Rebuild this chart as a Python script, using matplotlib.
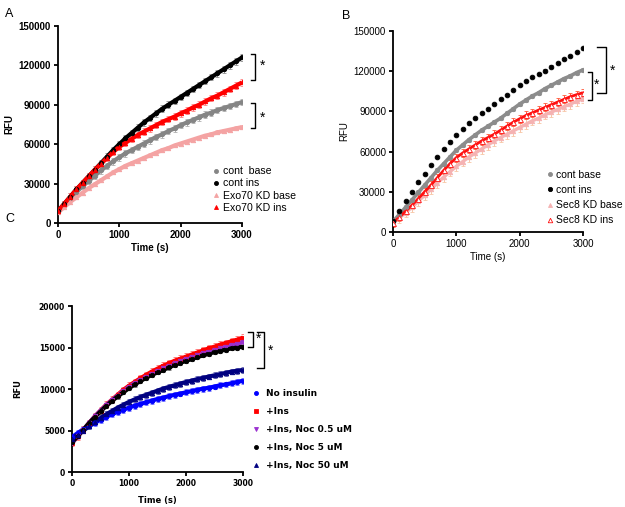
import matplotlib.pyplot as plt
import numpy as np

plt.rcParams["font.family"] = ["Liberation Sans", "DejaVu Sans"]

time_s = list(range(0, 3001, 100))

# Panel A (RFU in thousands)
a_cont_base = [9, 14, 19, 23.5, 28, 32, 36, 40, 43.5, 47, 50, 53, 55.5, 58, 60.5, 63,
               65.5, 67.5, 70, 72, 74.5, 76.5, 78.5, 80.5, 82.5, 84, 86, 87.5, 89, 90.5, 92]
a_cont_ins = [9, 14.5, 20, 25.5, 30.5, 35.5, 40.5, 45.5, 50.5, 55.5, 60, 64.5, 68.5, 72.5,
              76.5, 80, 83.5, 87, 90, 93, 96, 99, 102, 105, 108, 111, 114, 117, 120, 123, 126]
a_kd_base = [8, 12, 16, 19.5, 23, 26.5, 29.5, 32.5, 35.5, 38.5, 41, 43.5, 45.5, 47.5, 49.5,
             51.5, 53.5, 55.5, 57, 59, 60.5, 62, 63.5, 65, 66.5, 67.5, 69, 70, 71, 72, 73]
a_kd_ins = [9, 14.5, 20, 25.5, 30.5, 35.5, 40.5, 45, 49.5, 54, 58, 61, 64, 67, 69.5, 72,
            74.5, 77, 79, 81, 83.5, 85.5, 88, 90, 92.5, 95, 97, 99.5, 102, 104.5, 107]
a_err = [2.5, 2.5, 1.5, 2.5]
a_labels = ["cont  base", "cont ins", "Exo70 KD base", "Exo70 KD ins"]

# Panel B (RFU in thousands)
b_cont_base = [8, 13, 18.5, 24, 29.5, 35, 40.5, 46, 51, 56, 61, 65, 69, 72.5, 76, 79, 82,
               85, 88.5, 92, 95.5, 98.5, 101.5, 104, 107, 109.5, 112, 114.5, 116.5, 119, 121]
b_cont_ins = [8, 15.5, 23, 30, 37, 43.5, 50, 56, 62, 67.5, 72.5, 77, 81, 85, 88.5, 92, 95.5,
              99, 102.5, 106, 109.5, 112.5, 115.5, 118, 120.5, 123.5, 126, 129, 131.5, 134.5, 137]
b_kd_base = [7, 10.5, 14.5, 18.5, 23, 27.5, 32, 36.5, 41, 45, 49, 52.5, 56, 59, 62, 65, 68,
             70.5, 73, 75.5, 78, 80.5, 83, 85, 87.5, 89.5, 91.5, 93.5, 95.5, 97.5, 99.5]
b_kd_ins = [7, 11, 15.5, 20, 25, 30, 35, 40.5, 46, 51, 55.5, 59, 62, 65, 68, 70.5, 73, 76,
            79, 82, 84.5, 87, 89, 91, 93, 95, 97, 99, 101, 102.5, 104]
b_err = [1.5, 0.8, 3.5, 3.0]
b_labels = ["cont base", "cont ins", "Sec8 KD base", "Sec8 KD ins"]

# Panel C (RFU in thousands)
c_no_ins = [4.2, 4.7, 5.15, 5.55, 5.95, 6.3, 6.65, 6.95, 7.25, 7.5, 7.75, 8.0, 8.2, 8.4, 8.6,
            8.8, 8.95, 9.15, 9.3, 9.45, 9.6, 9.75, 9.9, 10.05, 10.15, 10.3, 10.45, 10.55,
            10.7, 10.85, 11.0]
c_ins = [3.5, 4.3, 5.1, 5.9, 6.7, 7.4, 8.1, 8.7, 9.3, 9.9, 10.4, 10.85, 11.3, 11.7, 12.1,
         12.45, 12.8, 13.1, 13.4, 13.65, 13.9, 14.15, 14.4, 14.65, 14.9, 15.1, 15.35, 15.55,
         15.75, 15.95, 16.2]
c_noc05 = [3.5, 4.3, 5.1, 5.9, 6.7, 7.4, 8.05, 8.65, 9.2, 9.75, 10.25, 10.7, 11.1, 11.5,
           11.85, 12.2, 12.5, 12.8, 13.1, 13.35, 13.6, 13.85, 14.05, 14.3, 14.5, 14.7, 14.9,
           15.1, 15.3, 15.45, 15.65]
c_noc5 = [3.6, 4.3, 5.1, 5.9, 6.6, 7.3, 7.95, 8.55, 9.1, 9.6, 10.1, 10.55, 10.95, 11.35,
          11.7, 12.0, 12.3, 12.6, 12.9, 13.15, 13.4, 13.6, 13.85, 14.05, 14.25, 14.45, 14.6,
          14.75, 14.9, 15.0, 15.1]
c_noc50 = [4.0, 4.5, 5.0, 5.5, 6.0, 6.5, 6.95, 7.35, 7.75, 8.1, 8.45, 8.75, 9.05, 9.3, 9.55,
           9.8, 10.05, 10.25, 10.45, 10.65, 10.85, 11.0, 11.2, 11.35, 11.5, 11.65, 11.8,
           11.95, 12.1, 12.2, 12.3]
c_err = [0.35, 0.4, 0.3, 0.25, 0.35]
c_labels = ["No insulin", "+Ins", "+Ins, Noc 0.5 uM", "+Ins, Noc 5 uM", "+Ins, Noc 50 uM"]


def draw_series(ax, values, err, color, marker, ecolor, mfc=None, lw=3.0, ms=3.2):
    y = np.array(values) * 1000
    ax.errorbar(time_s, y, yerr=err * 1000, fmt="none", ecolor=ecolor, elinewidth=0.7,
                capsize=1.3, capthick=0.6, zorder=2)
    if lw:
        ax.plot(time_s, y, color=color, lw=lw, zorder=3, solid_capstyle="butt")
    return ax.plot(time_s, y, ls="none", marker=marker, ms=ms, color=color,
                   mfc=mfc if mfc else color, mew=0.6, zorder=4)[0]


def style_axes(ax, ymax, ystep, fs, weight, lw=1.3):
    ax.set_xlim(0, 3000)
    ax.set_ylim(0, ymax)
    ax.set_xticks([0, 1000, 2000, 3000])
    ax.set_yticks(range(0, ymax + 1, ystep))
    ax.spines[["right", "top"]].set_visible(False)
    ax.spines[["left", "bottom"]].set_linewidth(lw)
    ax.tick_params(direction="out", length=3, width=lw, labelsize=fs, pad=2)
    for lab in ax.get_xticklabels() + ax.get_yticklabels():
        lab.set_fontweight(weight)


def bracket(ax, x0, x1, y0, y1, lw=1.0):
    ax.plot([x0, x1, x1, x0], [y0, y0, y1, y1], color="black", lw=lw, clip_on=False)


fig = plt.figure(figsize=(6.25, 5.07), dpi=100)

# ---------------- A
ax = fig.add_axes([0.0928, 0.5602, 0.2944, 0.3886])
h = [
    draw_series(ax, a_cont_base, a_err[0], "#858585", "o", "#b0b0b0"),
    draw_series(ax, a_cont_ins, a_err[1], "black", "o", "#909090"),
    draw_series(ax, a_kd_base, a_err[2], "#f4a3a3", "^", "#f8c4c4"),
    draw_series(ax, a_kd_ins, a_err[3], "#ff0000", "^", "#ff8080"),
]
style_axes(ax, 150000, 30000, 7, "bold")
ax.set_xlabel("Time (s)", fontsize=7, fontweight="bold", labelpad=2)
ax.set_ylabel("RFU", fontsize=7, fontweight="bold", labelpad=3)
bracket(ax, 3150, 3220, 129000, 108500)
bracket(ax, 3150, 3220, 91000, 72000)
ax.text(3340, 120000, "*", fontsize=10, ha="center", va="center")
ax.text(3340, 80000, "*", fontsize=10, ha="center", va="center")
ax.legend(h, a_labels, loc="upper left", bbox_to_anchor=(0.341, 0.672),
          bbox_transform=fig.transFigure, frameon=False, fontsize=7.6, handlelength=0.6,
          handletextpad=0.3, labelspacing=0.2, borderpad=0, borderaxespad=0,
          markerscale=0.9)
fig.text(0.008, 0.985, "A", fontsize=9, va="top")

# ---------------- B
ax = fig.add_axes([0.6288, 0.5424, 0.304, 0.3964])
h = [
    draw_series(ax, b_cont_base, b_err[0], "#8c8c8c", "o", "#b8b8b8", lw=2.6),
    draw_series(ax, b_cont_ins, b_err[1], "black", "o", "#606060", lw=0, ms=3.4),
    draw_series(ax, b_kd_base, b_err[2], "#f5b2b2", "^", "#f7c6a6", lw=2.4),
    draw_series(ax, b_kd_ins, b_err[3], "#ff1010", "^", "#ff5a3c", mfc="white", lw=2.0, ms=3.6),
]
style_axes(ax, 150000, 30000, 7, "normal")
ax.set_xlabel("Time (s)", fontsize=7, labelpad=2)
ax.set_ylabel("RFU", fontsize=7, labelpad=3)
bracket(ax, 3080, 3145, 119500, 98500)
bracket(ax, 3220, 3360, 138000, 104000)
ax.text(3215, 110000, "*", fontsize=10, ha="center", va="center")
ax.text(3460, 120000, "*", fontsize=10, ha="center", va="center")
ax.legend(h, b_labels, loc="upper left", bbox_to_anchor=(0.876, 0.665),
          bbox_transform=fig.transFigure, frameon=False, fontsize=7.5, handlelength=0.5,
          handletextpad=0.3, labelspacing=0.5, borderpad=0, borderaxespad=0,
          markerscale=0.9)
fig.text(0.547, 0.98, "B", fontsize=9, va="top")

# ---------------- C
ax = fig.add_axes([0.1152, 0.069, 0.2736, 0.3274])
h = [
    draw_series(ax, c_no_ins, c_err[0], "#0000ff", "o", "#6f6fff"),
    draw_series(ax, c_ins, c_err[1], "#ff0000", "s", "#ff7070"),
    draw_series(ax, c_noc05, c_err[2], "#9a30d0", "v", "#c080e0"),
    draw_series(ax, c_noc5, c_err[3], "black", "o", "#707070"),
    draw_series(ax, c_noc50, c_err[4], "#000080", "^", "#6060b0"),
]
style_axes(ax, 20000, 5000, 5.5, "bold")
for lab in ax.get_xticklabels() + ax.get_yticklabels():
    lab.set_family("DejaVu Sans")
ax.set_xlabel("Time (s)", fontsize=6, fontweight="bold", family="DejaVu Sans", labelpad=6)
ax.set_ylabel("RFU", fontsize=6, fontweight="bold", family="DejaVu Sans", labelpad=12)
bracket(ax, 3090, 3175, 16900, 15100)
bracket(ax, 3245, 3370, 16900, 12500)
ax.text(3265, 16000, "*", fontsize=10, ha="center", va="center")
ax.text(3475, 14600, "*", fontsize=10, ha="center", va="center")
leg = ax.legend(h, c_labels, loc="upper left", bbox_to_anchor=(0.405, 0.232),
                bbox_transform=fig.transFigure, frameon=False, fontsize=6.5,
                handlelength=0.6, handletextpad=0.8, labelspacing=1.0, borderpad=0,
                borderaxespad=0, markerscale=0.9)
for t in leg.get_texts():
    t.set_family("DejaVu Sans")
    t.set_fontweight("bold")
fig.text(0.008, 0.58, "C", fontsize=9, va="top")

fig.savefig("out.png", dpi=100)
